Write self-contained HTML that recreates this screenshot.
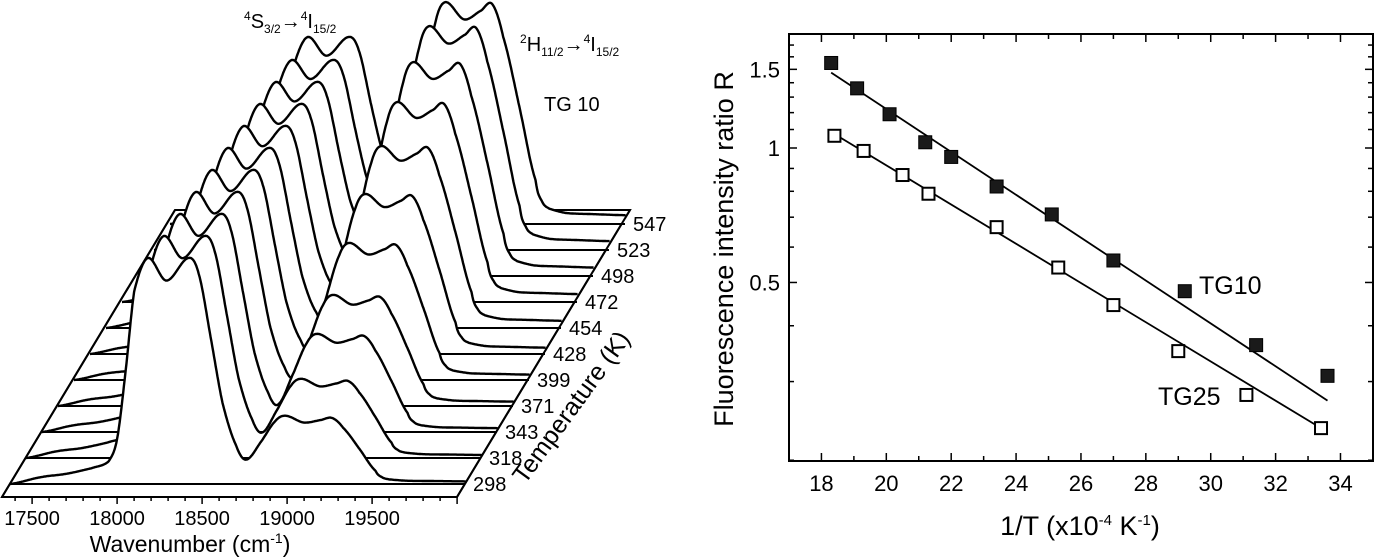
<!DOCTYPE html>
<html><head><meta charset="utf-8"><style>
html,body{margin:0;padding:0;background:#fff;}
svg{display:block;font-family:"Liberation Sans",Arial,sans-serif;}
</style></head><body>
<svg id="fig" width="1375" height="557" viewBox="0 0 1375 557">
<g id="left"></g>
<g id="right"></g>
</svg>
<script>
// ---------- Left waterfall data ----------
const temps = [298,318,343,371,399,428,454,472,498,523,547];
const sHeights = [226,222,218,214,210,206,202,198,194,190,187];
const hHeights = [66,77,96,109,135,158,180,198,212,222,220];
const profW = [17370,17550,17700,17850,17950,18000,18050,18100,18180,18290,18420,18480,18550,18620,18700,18760,18850,18930,18990,19100,19200,19265,19330,19420,19520,19560,19600,19700,19850,20050];
const sProf = [0,0.03,0.045,0.07,0.1,0.2,0.5,0.85,1.0,0.9,1.0,0.93,0.65,0.35,0.15,0.07,0.03,0.015,0.01,0,0,0,0,0,0,0,0,0,0,0];
const hProf = [0,0,0,0,0,0,0,0,0,0,0,0,0,0.03,0.07,0.13,0.55,0.9,1.0,0.93,0.97,1.0,0.85,0.55,0.2,0.1,0.07,0.05,0.045,0.04];
const xTicksW = [17500,18000,18500,19000,19500];

// ---------- Right chart data ----------
const tg10X = [18.3,19.1,20.1,21.2,22.0,23.4,25.1,27.0,29.2,31.4,33.6];
const tg10R = [1.55,1.36,1.19,1.03,0.955,0.82,0.71,0.56,0.478,0.362,0.309];
const tg25X = [18.4,19.3,20.5,21.3,23.4,25.3,27.0,29.0,31.1,33.4];
const tg25R = [1.065,0.985,0.87,0.79,0.665,0.54,0.445,0.351,0.28,0.236];
const fit10X = [18.3,33.6];
const fit10R = [1.475,0.272];
const fit25X = [18.4,33.4];
const fit25R = [1.075,0.236];
const xTickVals = [18,20,22,24,26,28,30,32,34];
const yTickVals = [0.5,1,1.5];
const yTickLabels = ["0.5","1","1.5"];

const NS="http://www.w3.org/2000/svg";
function mk(tag,attrs,parent){const e=document.createElementNS(NS,tag);for(const k in attrs)e.setAttribute(k,attrs[k]);parent.appendChild(e);return e;}

// ----- left -----
const L=document.getElementById('left');
const wx = w => 10 + (w-17370)*0.17;
function interp(arr,w){
  const n=profW.length;
  for(let i=0;i<n-1;i++){
    if(w>=profW[i]&&w<=profW[i+1]){
      const t=(w-profW[i])/(profW[i+1]-profW[i]);
      const p0=arr[Math.max(i-1,0)],p1=arr[i],p2=arr[i+1],p3=arr[Math.min(i+2,n-1)];
      const t2=t*t,t3=t2*t;
      const v=0.5*((2*p1)+(-p0+p2)*t+(2*p0-5*p1+4*p2-p3)*t2+(-p0+3*p1-3*p2+p3)*t3);
      return Math.max(0,v);
    }
  }
  return 0;
}
let floor=mk('polygon',{points:"2,497 457,497 630,210 175,210",fill:"#fff",stroke:"#000","stroke-width":2},L);


for(let k=temps.length-1;k>=0;k--){
  const ox=16*k, by=484-26*k;
  const g=mk('g',{},L);
  
  
  const pts=[];
  for(let w=17370;w<=20050;w+=5){
    const h=sHeights[k]*interp(sProf,w)+hHeights[k]*interp(hProf,w);
    pts.push([wx(w)+ox, by-h]);
  }
  const d='M'+pts.map(p=>p[0].toFixed(1)+','+p[1].toFixed(1)).join(' L');
  const fillD=d+' L'+pts[pts.length-1][0].toFixed(1)+','+by+' L'+pts[0][0].toFixed(1)+','+by+' Z';
  mk('path',{d:fillD,fill:"#fff",stroke:"none"},g);
  mk('line',{x1:10+ox,y1:by,x2:465+ox,y2:by,stroke:"#000","stroke-width":2},g);
  mk('path',{d:d,fill:"none",stroke:"#000","stroke-width":2.4,"stroke-linejoin":"round"},g);
  const t=mk('text',{x:473+ox,y:by+7,"font-size":20},L);
  t.textContent=temps[k];
  
  
}
mk('line',{x1:2,y1:497,x2:457,y2:497,stroke:"#000","stroke-width":2},L);
mk('line',{x1:2,y1:497,x2:175,y2:210,stroke:"#000","stroke-width":2},L);
mk('line',{x1:457,y1:497,x2:630,y2:210,stroke:"#000","stroke-width":2},L);
for(let w=17400;w<=20000;w+=100){
  mk('line',{x1:wx(w),y1:497,x2:wx(w),y2:(w%500===0)?504:501,stroke:"#000","stroke-width":1.5},L);
}
xTicksW.forEach(w=>{
  const t=mk('text',{x:wx(w),y:525,"font-size":20,"text-anchor":"middle"},L);
  t.textContent=w;
  
  
});
L.insertAdjacentHTML('beforeend',
 '<text x="190" y="552" font-size="23" text-anchor="middle">Wavenumber (cm<tspan dy="-9" font-size="14">-1</tspan><tspan dy="9">)</tspan></text>'+
 '<text transform="translate(578,412) rotate(-54)" font-size="25" text-anchor="middle">Temperature (K)</text>'+
 '<text x="244" y="28" font-size="20"><tspan dy="-8" font-size="12">4</tspan><tspan dy="8">S</tspan><tspan dy="5" font-size="12">3/2</tspan><tspan dy="-5">→</tspan><tspan dy="-8" font-size="12">4</tspan><tspan dy="8">I</tspan><tspan dy="5" font-size="12">15/2</tspan></text>'+
 '<text x="520" y="51" font-size="20"><tspan dy="-8" font-size="12">2</tspan><tspan dy="8">H</tspan><tspan dy="5" font-size="12">11/2</tspan><tspan dy="-5">→</tspan><tspan dy="-8" font-size="12">4</tspan><tspan dy="8">I</tspan><tspan dy="5" font-size="12">15/2</tspan></text>'+
 '<text x="544" y="111" font-size="20">TG 10</text>');

// ----- right -----
const R=document.getElementById('right');
const X0=789,X1=1373,Y0=34,Y1=461;
const xs=v=>789+(v-17)*32.44;
const ys=r=>148-194*Math.log(r);
let fr=mk('rect',{x:X0,y:Y0,width:X1-X0,height:Y1-Y0,fill:"none",stroke:"#000","stroke-width":2},R);


for(let v=17;v<=35;v++){
  const len=(v%2===0)?8:5;
  mk('line',{x1:xs(v),y1:Y1,x2:xs(v),y2:Y1-len,stroke:"#000","stroke-width":1.5},R);
  mk('line',{x1:xs(v),y1:Y0,x2:xs(v),y2:Y0+len,stroke:"#000","stroke-width":1.5},R);
}
for(let r=0.2;r<=1.81;r+=0.1){
  const y=ys(r);
  if(y<Y0||y>Y1)continue;
  const maj=Math.abs(r-0.5)<0.01||Math.abs(r-1)<0.01||Math.abs(r-1.5)<0.01;
  const len=maj?8:5;
  mk('line',{x1:X0,y1:y,x2:X0+len,y2:y,stroke:"#000","stroke-width":1.5},R);
  mk('line',{x1:X1,y1:y,x2:X1-len,y2:y,stroke:"#000","stroke-width":1.5},R);
}
xTickVals.forEach(v=>{
  const t=mk('text',{x:xs(v),y:491,"font-size":22,"text-anchor":"middle"},R);
  t.textContent=v;
  
  
});
yTickVals.forEach((v,i)=>{
  const t=mk('text',{x:780,y:ys(v)+8,"font-size":22,"text-anchor":"end"},R);
  t.textContent=yTickLabels[i];
  
  
});
function fit(xa,ra,name){
  const l=mk('line',{x1:xs(xa[0]),y1:ys(ra[0]),x2:xs(xa[1]),y2:ys(ra[1]),stroke:"#000","stroke-width":1.8},R);
  
  
}
fit(fit10X,fit10R,'tg10-fit-line');
fit(fit25X,fit25R,'tg25-fit-line');
tg10X.forEach((x,i)=>{
  const m=mk('rect',{x:xs(x)-6.5,y:ys(tg10R[i])-6.5,width:13,height:13,fill:"#1a1a1a",stroke:"#000","stroke-width":1},R);
  
  
});
tg25X.forEach((x,i)=>{
  const m=mk('rect',{x:xs(x)-6,y:ys(tg25R[i])-6,width:12,height:12,fill:"#fff",stroke:"#000","stroke-width":2},R);
  
  
});
R.insertAdjacentHTML('beforeend',
 '<text x="1199" y="294" font-size="25">TG10</text>'+
 '<text x="1158" y="405" font-size="25">TG25</text>'+
 '<text transform="translate(733,249) rotate(-90)" font-size="27" text-anchor="middle">Fluorescence intensity ratio R</text>'+
 '<text x="1080" y="535" font-size="27" text-anchor="middle">1/T (x10<tspan dy="-10" font-size="15">-4</tspan><tspan dy="10"> K</tspan><tspan dy="-10" font-size="15">-1</tspan><tspan dy="10">)</tspan></text>');
</script>
</body></html>
